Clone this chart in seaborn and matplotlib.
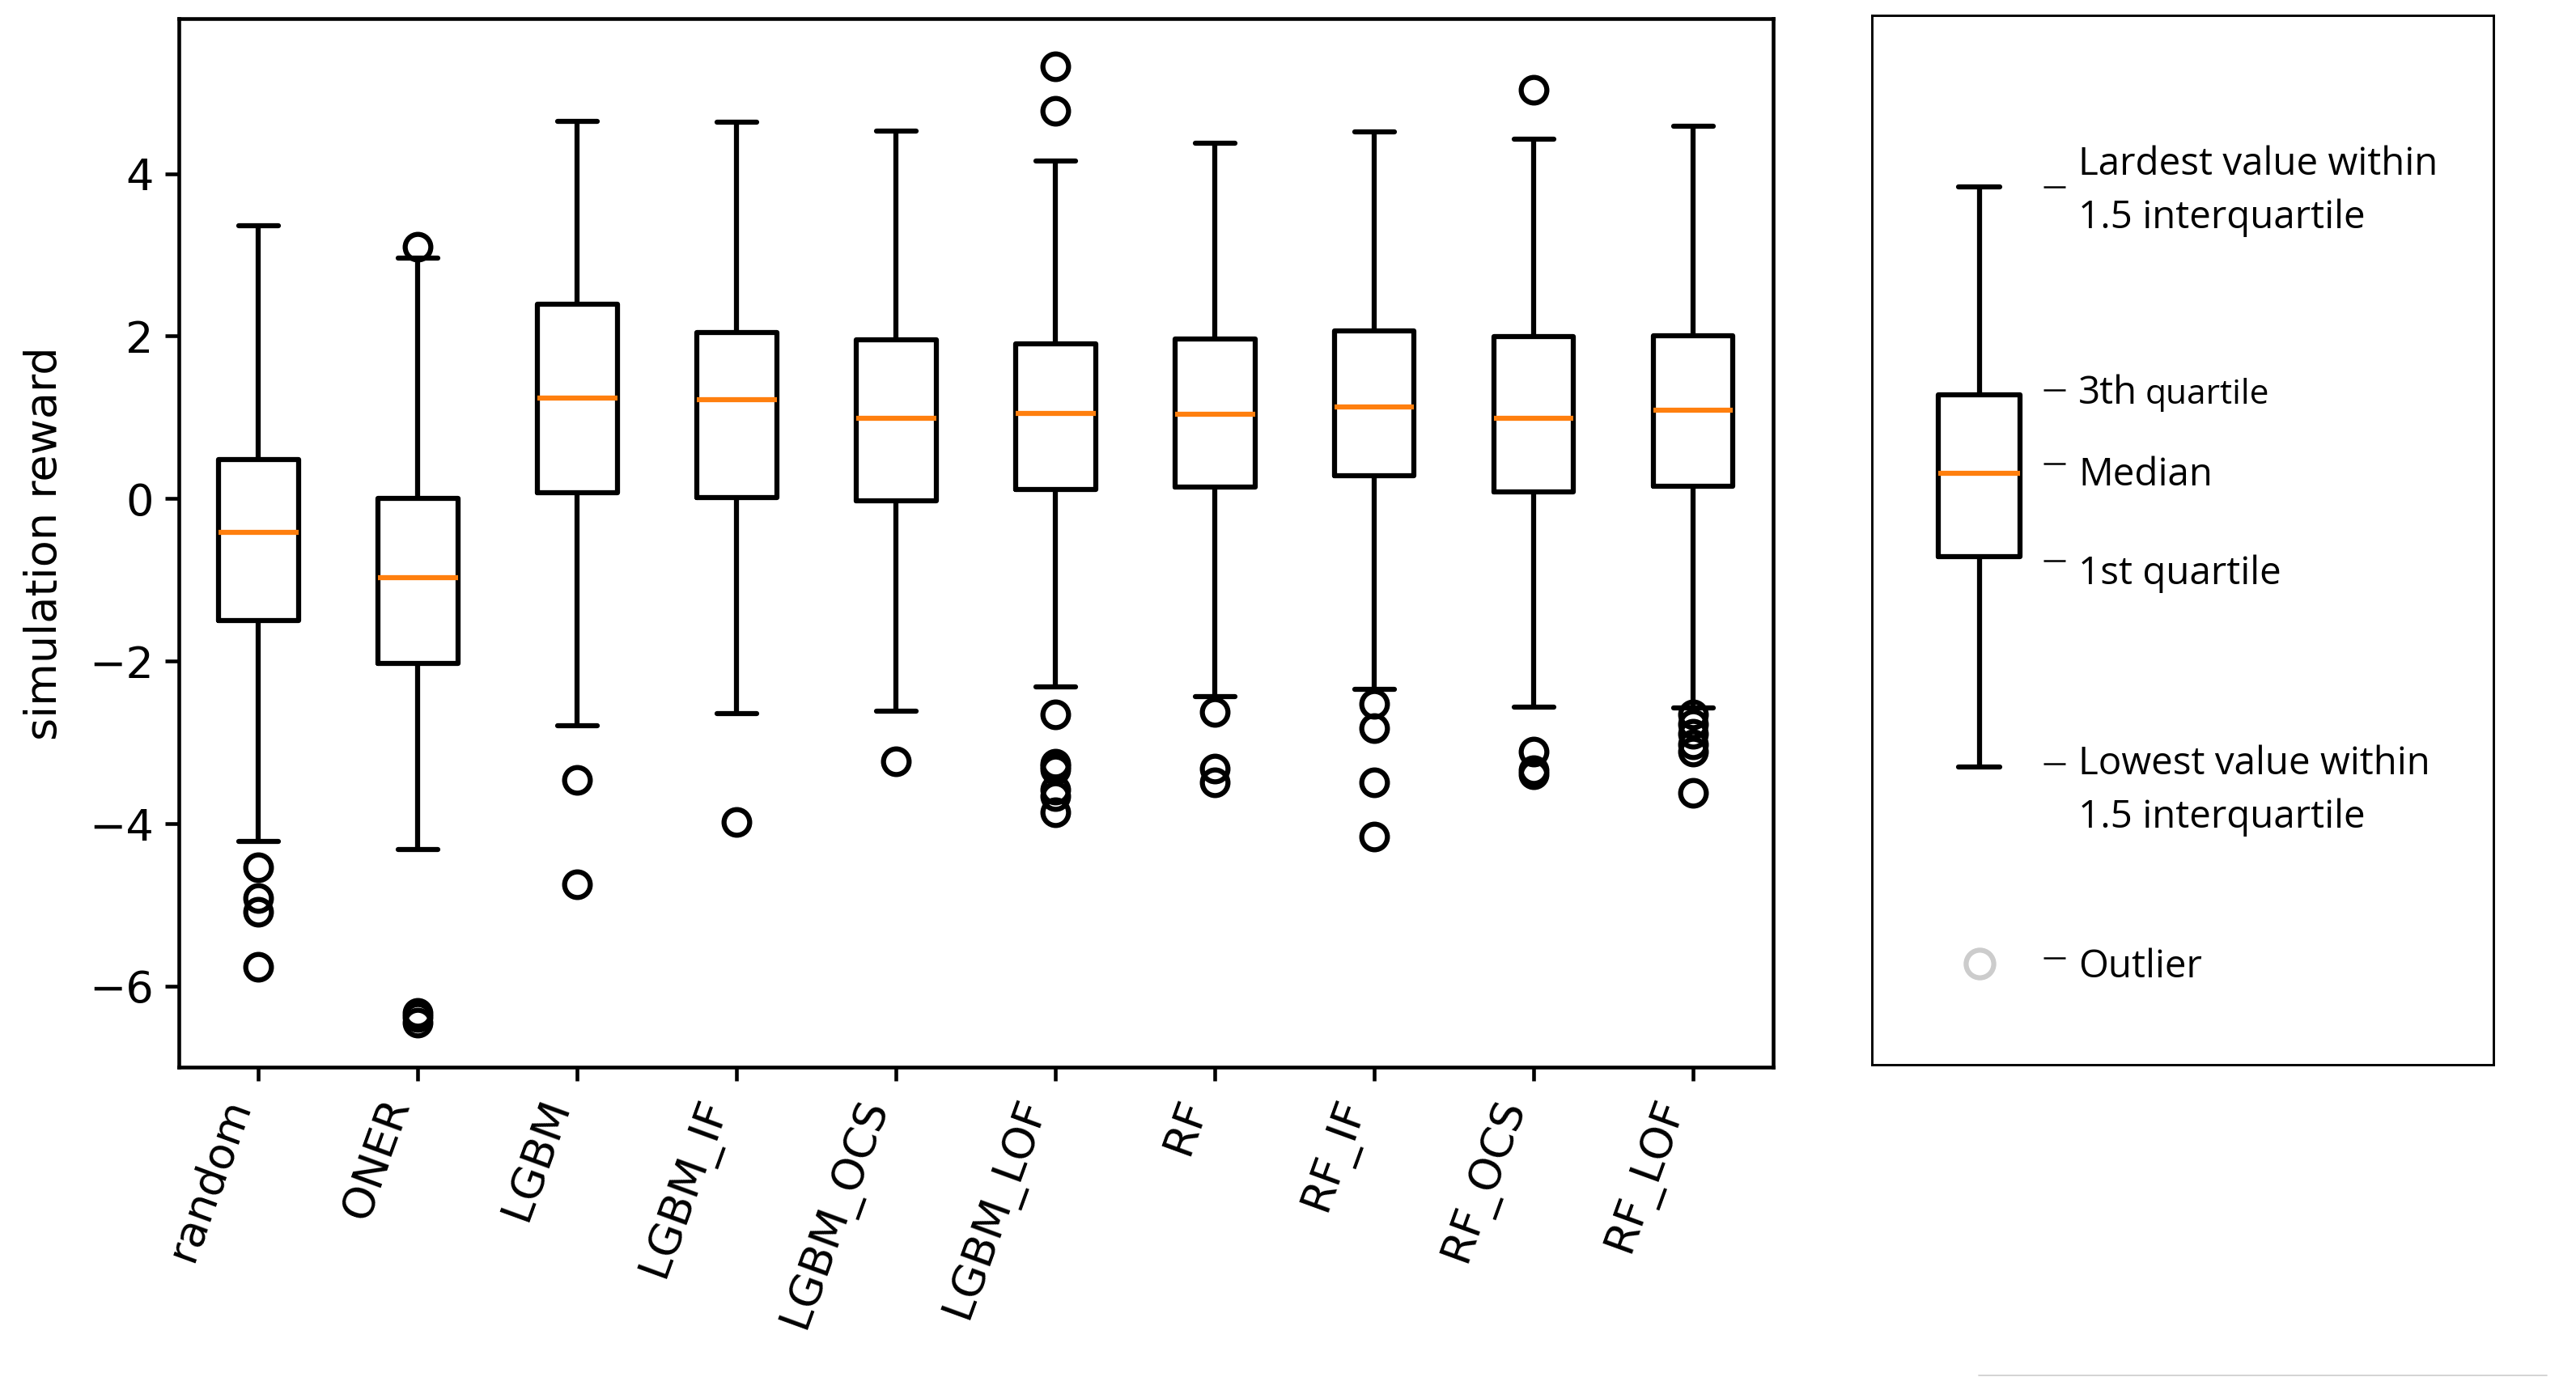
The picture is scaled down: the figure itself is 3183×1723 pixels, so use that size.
import numpy as np
import pandas as pd
import matplotlib
matplotlib.use("Agg")
import matplotlib.pyplot as plt
import seaborn as sns
from matplotlib.lines import Line2D

# ---------------- data ----------------
categories = ["random", "ONER", "LGBM", "LGBM_IF", "LGBM_OCS",
              "LGBM_LOF", "RF", "RF_IF", "RF_OCS", "RF_LOF"]
whisker_low = [-4.22, -4.32, -2.80, -2.65, -2.62, -2.32, -2.44, -2.35, -2.57, -2.58]
q1_vals = [-1.50, -2.03, 0.077, 0.017, -0.03, 0.11, 0.14, 0.28, 0.086, 0.15]
median_vals = [-0.42, -0.97, 1.235, 1.22, 0.99, 1.05, 1.04, 1.13, 0.99, 1.09]
q3_vals = [0.48, 0.00, 2.39, 2.04, 1.95, 1.90, 1.96, 2.06, 1.99, 2.00]
whisker_high = [3.36, 2.96, 4.64, 4.63, 4.52, 4.16, 4.37, 4.51, 4.42, 4.58]
outliers = [
    [-4.54, -4.92, -5.09, -5.76],
    [3.10, -6.33, -6.38, -6.45],
    [-3.46, -4.75],
    [-3.98],
    [-3.23],
    [5.32, 4.77, -2.66, -3.26, -3.29, -3.33, -3.58, -3.66, -3.86],
    [-2.63, -3.32, -3.49],
    [-2.53, -2.82, -3.49, -4.16],
    [5.03, -3.11, -3.34, -3.39],
    [-2.66, -2.78, -2.89, -3.02, -3.11, -3.62],
]

# legend schematic (fractions of the legend panel height)
legend_stats = [0.2837, 0.4842, 0.5639, 0.6384, 0.8368]   # low, q1, median, q3, high
legend_outlier = 0.0966
legend_labels = ["Lardest value within", "1.5 interquartile", "3th", "Median",
                 "1st quartile", "Lowest value within", "1.5 interquartile", "Outlier"]

# Rebuild samples whose quartiles/whiskers equal the read summary values
REP = 20
rows = []
for i, cat in enumerate(categories):
    vals = ([whisker_low[i]] + [q1_vals[i]] * REP + [median_vals[i]] * REP +
            [q3_vals[i]] * REP + [whisker_high[i]] + list(outliers[i]))
    for v in vals:
        rows.append((cat, v))
df = pd.DataFrame(rows, columns=["model", "reward"])

leg_sample = ([legend_stats[0]] + [legend_stats[1]] * REP + [legend_stats[2]] * REP +
              [legend_stats[3]] * REP + [legend_stats[4]])

# ---------------- style ----------------
sns.set_style("white")
plt.rcParams.update({
    "font.family": ["DejaVu Sans"],
    "axes.edgecolor": "black",
    "axes.labelcolor": "black",
    "text.color": "black",
    "xtick.color": "black",
    "ytick.color": "black",
    "axes.linewidth": 1.0,
})

fig = plt.figure(figsize=(3183 / 300, 1723 / 300), dpi=300)
fig.patch.set_facecolor("white")

LW = 1.5
box_kws = dict(
    width=0.5, whis=1.5, fill=False, color="black", linewidth=LW, fliersize=7.8,
    medianprops=dict(color="#ff7f0e", linewidth=LW),
    flierprops=dict(marker="o", markerfacecolor="none", markeredgecolor="black",
                    markeredgewidth=LW, markersize=7.6),
    boxprops=dict(color="black", linewidth=LW),
    whiskerprops=dict(color="black", linewidth=LW),
    capprops=dict(color="black", linewidth=LW),
)

# ---------------- main axes ----------------
ax = fig.add_axes([0.06943, 0.2343, 0.6188, 0.7522])
sns.boxplot(data=df, x="model", y="reward", order=categories, ax=ax, **box_kws)
ax.set_xlim(-0.5, len(categories) - 0.5)
ax.set_ylim(-7.0, 5.905)
ax.set_yticks([-6, -4, -2, 0, 2, 4])
ax.set_xlabel("")
ax.set_ylabel("simulation reward", fontsize=13, labelpad=7)
ax.set_xticks(range(len(categories)))
ax.set_xticklabels(categories, rotation=70, ha="right", fontsize=13)
ax.tick_params(axis="both", labelsize=13, direction="out", length=4, width=1.1,
               bottom=True, left=True)
for s in ax.spines.values():
    s.set_visible(True)
    s.set_linewidth(1.1)
    s.set_color("black")

# ---------------- legend panel ----------------
lax = fig.add_axes([0.72667, 0.23622, 0.24128, 0.75276])
sns.boxplot(y=leg_sample, ax=lax, **box_kws)
lax.set_xlim(-0.657, 3.145)
lax.set_ylim(0, 1)
lax.set_xticks([])
lax.set_yticks([])
lax.set_xlabel("")
lax.set_ylabel("")
for s in lax.spines.values():
    s.set_visible(True)
    s.set_linewidth(0.7)
    s.set_color("black")
lax.plot([0], [legend_outlier], marker="o", markersize=8.2, markerfacecolor="none",
         markeredgecolor="#cccccc", markeredgewidth=1.5, linestyle="none")

dash_y = [0.8366, 0.6430, 0.5729, 0.4803, 0.2868, 0.1018]
for y in dash_y:
    lax.plot([0.276, 0.311], [y, y], transform=lax.transAxes, color="black",
             linewidth=0.6, solid_capstyle="butt")

text_y = [0.8481, 0.7972, 0.6299, 0.5520, 0.4580, 0.2768, 0.2259, 0.0833]
tx = 0.332
for lab, y in zip(legend_labels, text_y):
    lax.text(tx, y, lab, transform=lax.transAxes, ha="left", va="baseline",
             fontsize=11.4, family=["Open Sans", "DejaVu Sans"])
lax.text(0.4401, text_y[2], "quartile", transform=lax.transAxes, ha="left",
         va="baseline", fontsize=10.2, family=["Open Sans", "DejaVu Sans"])

# faint line near the bottom right of the picture
fig.add_artist(Line2D([0.768, 0.9887], [0.01335, 0.01335], transform=fig.transFigure,
                      color="#cccccc", linewidth=0.4))

fig.savefig("out.png", dpi=300, facecolor="white")
